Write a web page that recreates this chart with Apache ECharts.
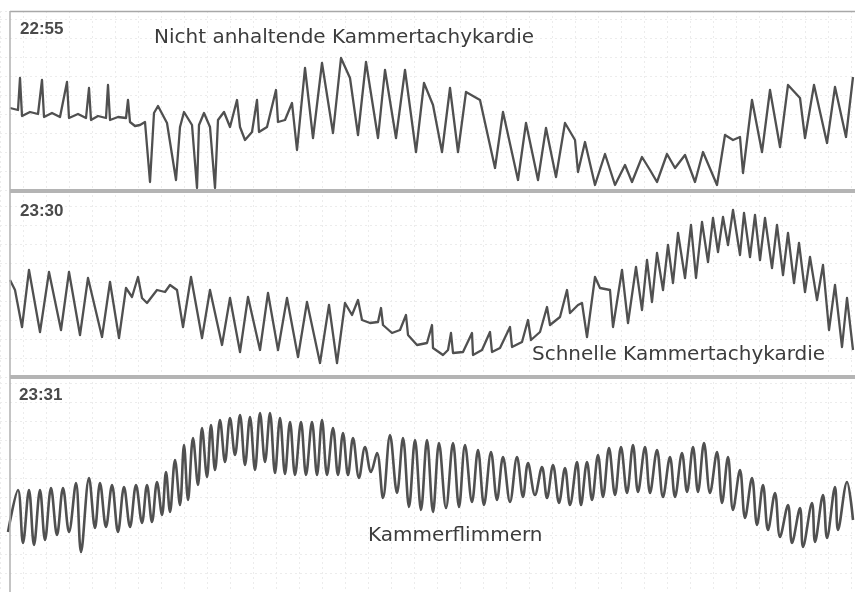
<!DOCTYPE html>
<html>
<head>
<meta charset="utf-8">
<script src="https://cdn.jsdelivr.net/npm/echarts@6/dist/echarts.min.js"></script>
<style>
  html, body { margin: 0; padding: 0; background: #fff; }
  #chart { width: 855px; height: 592px; }
</style>
</head>
<body>
<div id="chart"></div>
<script>
// Streifen-Beschriftungen
const stripTimes = ['22:55', '23:30', '23:31'];
const stripTitles = ['Nicht anhaltende Kammertachykardie', 'Schnelle Kammertachykardie', 'Kammerflimmern'];

// Ableitung je Streifen: [Zeit, Amplitude]
const trace1 = [
  [10,82],[18,80],[20,112],[22,74],[30,78],[38,76],[42,110],[44,73],[52,77],[60,73],
  [67,108],[69,72],[78,76],[86,72],[89,102],[91,70],[98,74],[106,72],[108,105],[110,70],
  [118,73],[126,72],[128,90],[130,68],[135,64],[140,65],[145,68],[150,8],[154,77],[158,84],
  [167,67],[176,10],[180,63],[184,78],[192,65],[197,2],[199,65],[204,77],[210,63],[215,2],
  [218,70],[224,78],[230,63],[237,90],[240,63],[245,50],[252,58],[257,90],[259,58],[267,63],
  [276,100],[278,68],[285,70],[292,87],[297,40],[305,122],[313,52],[322,127],[333,57],[341,132],
  [350,112],[358,55],[366,128],[378,52],[385,120],[396,52],[405,120],[416,38],[424,107],[433,85],
  [442,38],[450,102],[458,38],[466,98],[480,90],[495,22],[503,78],[518,10],[526,67],[538,10],
  [546,62],[556,13],[565,67],[575,50],[578,18],[585,48],[595,5],[605,36],[615,5],[625,25],
  [632,8],[642,33],[650,20],[657,8],[667,36],[675,22],[685,35],[695,8],[703,38],[717,5],
  [725,55],[733,50],[740,53],[743,17],[752,90],[762,38],[770,100],[780,43],[788,105],[800,92],
  [805,52],[814,105],[827,47],[835,103],[846,53],[853,113]
];
const trace2 = [
  [10,97],[15,87],[22,50],[29,107],[40,45],[49,105],[61,47],[69,105],[80,42],[88,99],
  [102,40],[110,95],[119,39],[126,89],[132,80],[138,100],[142,79],[147,74],[157,87],[165,85],
  [170,92],[177,87],[183,50],[191,100],[202,39],[210,87],[222,32],[230,79],[240,25],[248,80],
  [260,27],[268,84],[278,27],[287,79],[298,20],[307,75],[320,14],[329,72],[337,14],[345,74],
  [352,62],[358,77],[362,57],[370,54],[378,55],[381,69],[383,52],[392,44],[400,47],[406,62],
  [408,42],[417,32],[427,34],[432,52],[433,29],[443,22],[448,27],[451,44],[453,24],[463,25],
  [472,44],[473,22],[482,27],[490,45],[492,25],[500,29],[510,50],[512,30],[522,35],[528,57],
  [531,37],[540,45],[547,70],[550,52],[560,60],[567,87],[570,64],[578,72],[582,74],[587,40],
  [595,100],[600,89],[610,87],[613,50],[622,107],[628,54],[636,110],[642,67],[647,117],[652,75],
  [657,124],[663,87],[668,132],[673,94],[678,144],[685,99],[691,152],[696,99],[702,155],[708,115],
  [713,159],[718,125],[723,160],[728,132],[733,167],[740,122],[744,164],[750,120],[755,162],[760,117],
  [765,159],[772,109],[777,152],[783,102],[788,144],[794,94],[799,134],[805,85],[810,120],[817,77],
  [823,112],[829,47],[835,92],[842,30],[847,79],[853,27]
];
const trace3 = [
  [8,60],[18,102],[23,49],[29,102],[34,47],[40,102],[45,52],[51,104],[57,57],[63,104],
  [69,60],[76,109],[81,40],[89,114],[95,64],[100,109],[106,65],[112,107],[118,60],[124,105],
  [130,65],[136,107],[142,69],[147,107],[152,70],[157,110],[162,77],[166,120],[170,80],[175,132],
  [180,87],[184,147],[188,92],[193,154],[198,107],[202,164],[207,115],[211,167],[215,122],[220,172],
  [225,130],[230,174],[235,137],[240,177],[245,127],[250,175],[255,122],[260,179],[265,130],[270,179],
  [275,119],[280,174],[285,118],[290,170],[295,117],[301,170],[306,117],[312,170],[317,117],[322,172],
  [327,117],[333,164],[338,117],[343,159],[348,117],[353,154],[359,114],[365,145],[371,120],[377,139],
  [383,94],[390,157],[397,99],[403,154],[409,85],[415,152],[421,82],[427,152],[433,80],[439,149],
  [446,84],[453,149],[459,85],[465,147],[472,90],[478,142],[484,87],[491,140],[497,92],[503,135],
  [510,90],[517,135],[523,95],[528,129],[535,97],[542,125],[547,94],[553,127],[559,89],[565,124],
  [570,87],[577,130],[581,87],[587,130],[592,92],[598,137],[603,95],[609,144],[615,97],[621,145],
  [627,99],[633,147],[638,100],[645,145],[650,99],[657,142],[663,95],[670,135],[675,95],[682,139],
  [687,100],[693,145],[698,100],[704,149],[710,99],[717,140],[722,89],[728,135],[733,82],[740,122],
  [745,74],[752,114],[757,67],[763,107],[768,62],[775,99],[780,55],[788,87],[792,49],[800,84],
  [803,45],[812,89],[815,50],[823,97],[827,54],[835,105],[838,62],[847,110],[853,72]
];
const traces = [trace1, trace2, trace3];

// Streifenlage (Pixel) und Amplitudenbereich
const stripTop = [11, 190, 377];
const stripHeight = [179, 187, 215];

const chart = echarts.init(document.getElementById('chart'), null, { renderer: 'canvas' });

const grid = [], xAxis = [], yAxis = [], series = [];
for (let i = 0; i < 3; i++) {
  grid.push({ left: 0, right: 0, top: stripTop[i], height: stripHeight[i] });
  xAxis.push({
    type: 'value', gridIndex: i, min: 0, max: 855, interval: 23,
    axisLine: { show: false }, axisTick: { show: false }, axisLabel: { show: false },
    splitLine: { show: true, lineStyle: { color: '#ececec', type: [2, 3], width: 1 } }
  });
  yAxis.push({
    type: 'value', gridIndex: i, min: 0, max: stripHeight[i], interval: 19,
    axisLine: { show: false }, axisTick: { show: false }, axisLabel: { show: false },
    splitLine: { show: true, lineStyle: { color: '#ececec', type: [2, 3], width: 1 } }
  });
  series.push({
    type: 'line', xAxisIndex: i, yAxisIndex: i, data: traces[i],
    symbol: 'none', smooth: i === 2 ? 0.35 : false,
    lineStyle: { color: '#505050', width: i === 2 ? 2.6 : 2.3, join: 'round' }, z: 5
  });
}

const labelFont = '"DejaVu Sans", sans-serif';
const timeFont = 'bold 17px "Liberation Sans", Arial, sans-serif';
const graphic = [
  { type: 'line', shape: { x1: 10, y1: 11.5, x2: 855, y2: 11.5 }, style: { stroke: '#a8a8a8', lineWidth: 1.5 }, z: 10 },
  { type: 'line', shape: { x1: 10, y1: 11, x2: 10, y2: 592 }, style: { stroke: '#b0b0b0', lineWidth: 1.5 }, z: 10 },
  { type: 'line', shape: { x1: 10, y1: 191, x2: 855, y2: 191 }, style: { stroke: '#b4b4b4', lineWidth: 4 }, z: 10 },
  { type: 'line', shape: { x1: 10, y1: 377, x2: 855, y2: 377 }, style: { stroke: '#b4b4b4', lineWidth: 4 }, z: 10 },
  { type: 'text', left: 20, top: 21, z: 20, style: { text: stripTimes[0], font: timeFont, fill: '#4a4a4a' } },
  { type: 'text', left: 20, top: 203, z: 20, style: { text: stripTimes[1], font: timeFont, fill: '#4a4a4a' } },
  { type: 'text', left: 19, top: 387, z: 20, style: { text: stripTimes[2], font: timeFont, fill: '#4a4a4a' } },
  { type: 'text', left: 154, top: 28, z: 20, style: { text: stripTitles[0], font: '20px ' + labelFont, fill: '#3c3c3c' } },
  { type: 'text', left: 532, top: 345, z: 20, style: { text: stripTitles[1], font: '20px ' + labelFont, fill: '#3c3c3c' } },
  { type: 'text', left: 368, top: 526, z: 20, style: { text: stripTitles[2], font: '20px ' + labelFont, fill: '#3c3c3c' } }
];

chart.setOption({
  backgroundColor: '#ffffff',
  animation: false,
  grid, xAxis, yAxis, series, graphic
});
</script>
</body>
</html>
